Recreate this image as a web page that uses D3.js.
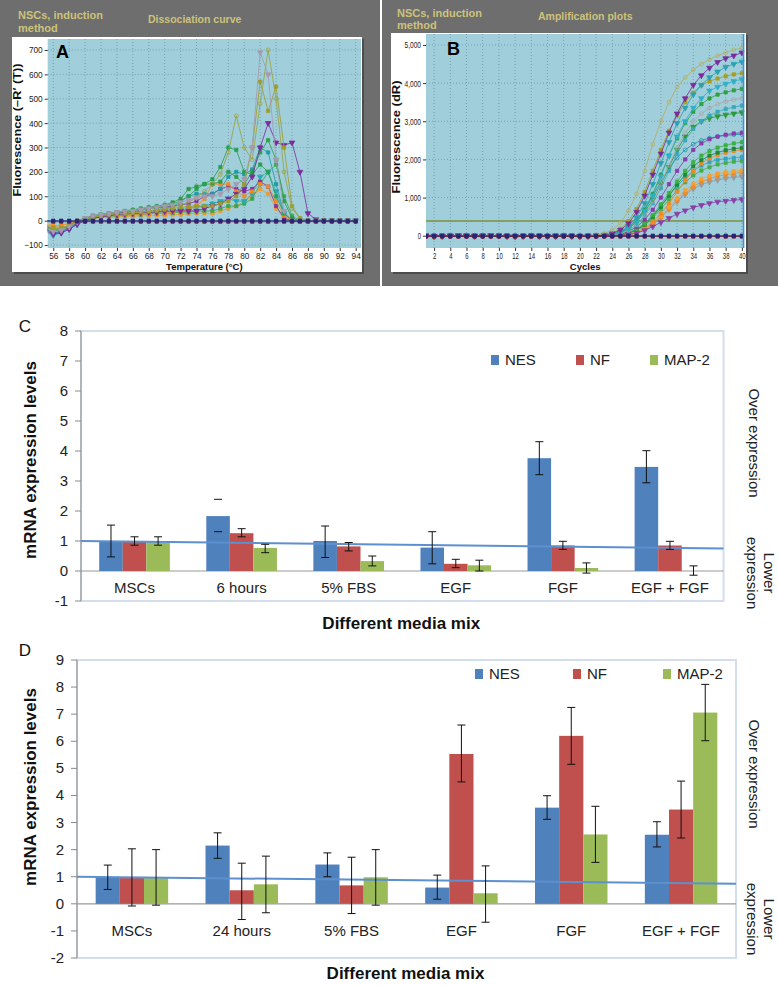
<!DOCTYPE html>
<html><head><meta charset="utf-8">
<script src="https://cdn.jsdelivr.net/npm/d3@7"></script>
<style>body{margin:0;background:#fff} svg{display:block}</style>
</head><body>
<svg id="fig" width="778" height="985"></svg>
<script>
// ================= DATA =================
// ---- Panel A: dissociation curves (-R'(T)) at each °C ----
const dissTemps = [55,56,57,58,59,60,61,62,63,64,65,66,67,68,69,70,71,72,73,74,75,76,77,78,79,80,81,82,83,84,85,86,87,88,89,90,91,92,93,94];
const dissGreen1 = [-20,-40,-35,-20,0,10,20,25,30,35,35,40,45,50,55,60,70,80,100,130,150,170,220,300,290,200,190,230,200,100,30,5,0,0,0,0,0,0,0,0];
const dissOlive1 = [-25,-35,-30,-20,-5,5,15,20,25,30,30,35,35,40,45,50,55,65,75,95,120,150,190,280,430,300,250,480,700,500,200,50,10,0,0,0,0,0,0,0];
const dissGray   = [-30,-45,-40,-25,-5,10,20,25,30,35,38,40,45,50,55,60,65,75,85,95,100,100,110,130,150,170,300,690,600,250,40,0,0,0,0,0,0,0,0,0];
const dissOlive2 = [-20,-30,-30,-20,-5,5,15,20,25,28,30,32,35,38,40,45,50,55,58,60,60,60,70,80,100,150,300,570,450,550,300,60,10,0,0,0,0,0,0,0];
const dissPurple1= [-40,-55,-50,-35,-15,0,10,15,20,25,28,30,32,35,35,38,40,40,40,40,50,60,70,90,110,130,180,300,400,320,310,320,200,30,5,0,0,0,0,0];
const dissTeal1  = [-30,-50,-45,-30,-10,5,15,20,25,30,32,35,38,40,45,50,55,80,100,110,110,110,130,180,200,190,210,300,280,150,30,0,0,0,0,0,0,0,0,0];
const dissOrange1= [-15,-25,-20,-10,0,10,15,18,20,22,24,25,27,28,30,30,35,40,45,60,90,150,150,150,120,100,120,150,140,80,20,0,0,0,0,0,0,0,0,0];
const dissOrange2= [-10,-20,-20,-10,0,5,10,12,15,15,18,18,20,20,22,22,25,25,28,30,30,30,40,50,60,80,100,130,110,50,10,0,0,0,0,0,0,0,0,0];
const dissPurple2= [-35,-50,-45,-30,-10,5,15,20,25,30,35,40,45,50,55,55,60,65,70,80,100,110,130,140,130,120,130,160,140,60,10,0,0,0,0,0,0,0,0,0];
const dissGreen2 = [-25,-40,-40,-25,-5,10,20,25,30,35,40,45,50,55,60,65,75,90,130,140,150,150,160,200,180,150,200,280,330,250,80,10,0,0,0,0,0,0,0,0];
const dissCyan   = [-45,-60,-50,-35,-15,0,10,15,20,22,25,28,30,32,35,38,40,45,50,55,60,70,80,90,80,80,110,180,200,120,30,0,0,0,0,0,0,0,0,0];
const dissGreen3 = [-20,-35,-30,-20,-5,5,12,15,18,20,22,25,25,28,30,30,32,35,35,38,40,40,50,60,60,70,90,150,200,230,100,20,0,0,0,0,0,0,0,0];
const dissNTC1   = [0,0,0,0,0,0,0,0,0,0,0,0,0,0,0,0,0,0,0,0,0,0,0,0,0,0,0,0,0,0,0,0,0,0,0,0,0,0,0,0];
const dissNTC2   = [-4,-4,-4,-4,-4,-4,-4,-4,-4,-4,-4,-4,-4,-4,-4,-4,-4,-4,-4,-4,-4,-4,-4,-4,-4,-4,-4,-4,-4,-4,-4,-4,-4,-4,-4,-4,-4,-4,-4,-4];
const dissTicksX = [56,58,60,62,64,66,68,70,72,74,76,78,80,82,84,86,88,90,92,94];
const dissTicksY = [-100,0,100,200,300,400,500,600,700];

// ---- Panel B: amplification plots (dR) per cycle ----
const ampCycles = [1,2,3,4,5,6,7,8,9,10,11,12,13,14,15,16,17,18,19,20,21,22,23,24,25,26,27,28,29,30,31,32,33,34,35,36,37,38,39,40];
const ampBaseline = [0,-10,-5,0,5,0,-5,0,5,0,-5,-10,-5,0,-5,-10,-5,0,-5,-10,-5]; // cycles 1-21
// cycles 22-40
const ampOliveTop = [20,60,150,330,650,1100,1700,2400,3000,3500,3900,4150,4350,4500,4620,4720,4800,4870,4920];
const ampPurple1  = [0,20,60,150,320,620,1050,1600,2150,2700,3200,3600,3950,4200,4400,4550,4650,4720,4800];
const ampTeal1    = [0,10,40,110,250,480,850,1350,1900,2450,2950,3350,3700,3950,4150,4300,4420,4500,4560];
const ampOliveSq  = [0,20,70,180,380,700,1150,1700,2250,2750,3150,3500,3750,3950,4050,4120,4180,4230,4260];
const ampCyan     = [0,10,30,80,180,360,650,1050,1550,2100,2600,3000,3350,3600,3800,3900,3980,4050,4100];
const ampGreen1   = [0,10,30,80,190,380,680,1100,1600,2100,2550,2950,3250,3450,3600,3700,3760,3810,3850];
const ampGray1    = [0,0,20,60,140,290,540,900,1350,1850,2300,2700,3000,3200,3350,3450,3520,3570,3600];
const ampTeal2    = [0,0,20,60,140,280,520,850,1250,1700,2150,2500,2800,3000,3150,3250,3320,3370,3410];
const ampGreen2   = [0,10,30,80,180,360,620,950,1350,1800,2250,2600,2850,3000,3080,3130,3170,3200,3230];
const ampPurple2  = [0,0,10,40,110,230,420,680,1000,1350,1700,2000,2250,2420,2530,2600,2650,2680,2700];
const ampTeal3    = [0,10,40,100,220,420,700,1050,1400,1750,2050,2250,2400,2500,2560,2600,2630,2650,2660];
const ampGreen3   = [0,0,10,30,80,170,320,540,820,1120,1420,1700,1930,2100,2220,2310,2370,2420,2450];
const ampDkGreen  = [0,0,10,30,70,150,290,500,760,1050,1340,1600,1820,1980,2100,2180,2240,2280,2300];
const ampOrange1  = [0,0,0,15,45,100,200,360,580,850,1150,1450,1700,1900,2030,2120,2180,2220,2250];
const ampTeal4    = [0,0,10,30,80,170,320,520,780,1050,1300,1520,1700,1840,1930,1990,2020,2040,2060];
const ampGreen4   = [0,0,0,20,60,140,270,460,700,950,1190,1400,1580,1710,1800,1870,1910,1940,1960];
const ampOrange2  = [0,0,0,10,30,80,170,320,520,750,980,1190,1360,1490,1570,1630,1660,1690,1710];
const ampOrange3  = [0,0,0,10,25,70,150,290,480,700,920,1120,1290,1410,1500,1560,1600,1630,1660];
const ampGray2    = [0,0,0,10,30,70,160,300,480,690,900,1080,1230,1340,1410,1460,1500,1530,1550];
const ampPurpleLow= [0,0,0,10,30,70,140,240,350,460,570,660,740,800,850,890,910,930,950];
const ampNTC1 = [0,0,0,0,0,0,0,0,0,0,0,0,0,0,0,0,0,0,0,0,0,0,0,0,0,0,0,0,0,0,0,0,0,0,0,0,0,0,0,0];
const ampNTC2 = [-20,-20,-20,-20,-20,-20,-20,-20,-20,-20,-20,-20,-20,-20,-20,-20,-20,-20,-20,-20,-20,-20,-20,-20,-20,-20,-20,-20,-20,-20,-20,-20,-20,-20,-20,-20,-20,-20,-20,-20];
const ampThreshold = 386;
const ampTicksX = [2,4,6,8,10,12,14,16,18,20,22,24,26,28,30,32,34,36,38,40];
const ampTicksY = [0,1000,2000,3000,4000,5000];

// ---- Panel C ----
const genes = ["NES","NF","MAP-2"];
const mediaC = ["MSCs","6 hours","5% FBS","EGF","FGF","EGF + FGF"];
const nesC   = [0.98,1.83,1.0,0.78,3.76,3.47];
const nesCLo = [0.47,1.31,0.45,0.24,3.21,2.94];
const nesCHi = [1.53,2.39,1.5,1.31,4.31,4.01];
const nfC    = [0.98,1.26,0.82,0.24,0.85,0.85];
const nfCLo  = [0.86,1.14,0.67,0.11,0.72,0.72];
const nfCHi  = [1.14,1.41,0.95,0.39,0.99,0.99];
const mapC   = [0.98,0.77,0.33,0.19,0.1,0.0];
const mapCLo = [0.86,0.61,0.17,0.0,-0.07,-0.14];
const mapCHi = [1.14,0.89,0.5,0.36,0.27,0.17];
const capsOnlyC = [["6 hours","NES"]];
const trendC = [1.0, 0.75];
const ticksC = [-1,0,1,2,3,4,5,6,7,8];

// ---- Panel D ----
const mediaD = ["MSCs","24 hours","5% FBS","EGF","FGF","EGF + FGF"];
const nesD   = [0.98,2.15,1.45,0.6,3.55,2.55];
const nesDLo = [0.53,1.68,1.0,0.17,3.12,2.1];
const nesDHi = [1.43,2.62,1.88,1.06,3.99,3.03];
const nfD    = [0.95,0.5,0.68,5.53,6.2,3.48];
const nfDLo  = [-0.08,-0.58,-0.36,4.5,5.15,2.43];
const nfDHi  = [2.03,1.5,1.72,6.6,7.25,4.53];
const mapD   = [0.95,0.72,0.98,0.39,2.56,7.06];
const mapDLo = [-0.05,-0.33,-0.05,-0.68,1.53,6.02];
const mapDHi = [2.0,1.76,2.0,1.4,3.6,8.1];
const trendD = [1.0, 0.74];
const ticksD = [-2,-1,0,1,2,3,4,5,6,7,8,9];

// ================= DRAWING =================
const FONT = "'Liberation Sans', Arial, Helvetica, sans-serif";
const svg = d3.select("#fig").style("font-family", FONT);
svg.append("rect").attr("width",778).attr("height",985).attr("fill","#fff");

const symSq = d3.symbol().type(d3.symbolSquare).size(11);
const symTri = d3.symbol().type(d3.symbolTriangle).size(14);
const symCirc = d3.symbol().type(d3.symbolCircle).size(12);

function qpcrPanel(o){
  const g = svg.append("g");
  g.append("rect").attr("x",o.px).attr("y",0).attr("width",o.pw).attr("height",286).attr("fill","#6e6e6e");
  g.append("rect").attr("x",o.fx+2).attr("y",o.fy+2).attr("width",o.fw).attr("height",o.fh).attr("fill","#4c4c4c");
  g.append("rect").attr("x",o.fx).attr("y",o.fy).attr("width",o.fw).attr("height",o.fh).attr("fill","#fff");
  // header text
  o.headLeft.forEach((t,i)=>g.append("text").attr("x",o.hx).attr("y",o.hy[i]).text(t)
      .attr("font-size",11).attr("font-weight","bold").attr("fill","#cdc279"));
  g.append("text").attr("x",o.tx).attr("y",o.ty).text(o.title)
      .attr("font-size",10.5).attr("font-weight","bold").attr("fill","#cdc279");

  const x = d3.scaleLinear().domain(o.xDomain).range([o.x0,o.x1]);
  const y = d3.scaleLinear().domain(o.yDomain).range([o.y1,o.y0]);
  g.append("rect").attr("x",o.x0).attr("y",o.y0).attr("width",o.x1-o.x0).attr("height",o.y1-o.y0).attr("fill","#a0cedb");
  // grid
  g.selectAll(null).data(o.ticksX).join("line")
    .attr("x1",d=>x(d)).attr("x2",d=>x(d)).attr("y1",o.y0).attr("y2",o.y1)
    .attr("stroke","#6f98a6").attr("stroke-width",0.8).attr("stroke-dasharray","1,2");
  g.selectAll(null).data(o.ticksY).join("line")
    .attr("y1",d=>y(d)).attr("y2",d=>y(d)).attr("x1",o.x0).attr("x2",o.x1)
    .attr("stroke","#6f98a6").attr("stroke-width",0.8).attr("stroke-dasharray","1,2");

  const clipId = "clip"+o.id;
  g.append("clipPath").attr("id",clipId).append("rect")
    .attr("x",o.x0).attr("y",o.y0).attr("width",o.x1-o.x0).attr("height",o.y1-o.y0);
  const pg = g.append("g").attr("clip-path",`url(#${clipId})`);
  if (o.extra) o.extra(pg, x, y);
  const line = d3.line().x((d,i)=>x(o.xs[i])).y(d=>y(d));
  o.series.forEach(s=>{
    const sg = pg.append("g");
    sg.append("path").attr("d",line(s.values)).attr("fill","none")
      .attr("stroke",s.color).attr("stroke-width",0.9).attr("opacity",0.9);
    const sym = s.shape==="tri" ? symTri : s.shape==="circ" ? symCirc : symSq;
    sg.selectAll(null).data(s.values).join("path")
      .attr("d",sym)
      .attr("transform",(d,i)=>`translate(${x(o.xs[i])},${y(d)})${s.shape==="tri"?" rotate(180)":""}`)
      .attr("fill",s.shape==="circ"?"none":s.color)
      .attr("stroke",s.color).attr("stroke-width",0.7);
  });
  if (o.after) o.after(g, x, y);

  // axes
  const ax = g.append("g").attr("transform",`translate(${o.x0},0)`)
    .call(d3.axisLeft(y).tickValues(o.ticksY).tickSize(3).tickPadding(2).tickFormat(o.yFormat));
  ax.select(".domain").remove();
  ax.selectAll("text").attr("font-size",9).attr("fill","#222").attr("font-family",FONT)
    .each(function(){ const t=this.textContent; d3.select(this).attr("textLength",t.length*o.charW).attr("lengthAdjust","spacingAndGlyphs"); });
  ax.selectAll("line").attr("stroke","#333");
  const bx = g.append("g").attr("transform",`translate(0,${o.y1})`)
    .call(d3.axisBottom(x).tickValues(o.ticksX).tickSize(3).tickPadding(2).tickFormat(d3.format("d")));
  bx.select(".domain").remove();
  bx.selectAll("text").attr("font-size",9).attr("fill","#222").attr("font-family",FONT)
    .each(function(){ const t=this.textContent; d3.select(this).attr("textLength",t.length*o.charW).attr("lengthAdjust","spacingAndGlyphs"); });
  bx.selectAll("line").attr("stroke","#333");
  // titles
  g.append("text").attr("x",(o.x0+o.x1)/2).attr("y",o.xtY).attr("text-anchor","middle")
    .attr("font-size",9.5).attr("font-weight","bold").attr("fill","#111").text(o.xTitle);
  g.append("text").attr("transform",`translate(${o.ytX},${o.ytY}) rotate(-90)`).attr("text-anchor","middle")
    .attr("font-size",10).attr("font-weight","bold").attr("fill","#111").text(o.yTitle)
    .attr("textLength",o.ytLen).attr("lengthAdjust","spacingAndGlyphs");
  g.append("text").attr("x",o.lx).attr("y",o.ly).text(o.letter)
    .attr("font-size",18).attr("font-weight","bold").attr("fill","#000");
}

// Panel A
qpcrPanel({
  id:"A", px:0, pw:380, fx:12, fy:37, fw:350, fh:235,
  hx:18, hy:[19,32], headLeft:["NSCs, induction","method"], tx:148, ty:23, title:"Dissociation curve",
  x0:47.7, x1:361, y0:39, y1:248, xDomain:[55.3,94.67], yDomain:[-112,745],
  ticksX:dissTicksX, ticksY:dissTicksY, yFormat:d3.format("d"), charW:4.6,
  xs:dissTemps,
  series:[
    {values:dissOrange2,color:"#f39a2c",shape:"sq"},
    {values:dissGreen3,color:"#3aa84a",shape:"sq"},
    {values:dissCyan,color:"#27a9b8",shape:"tri"},
    {values:dissPurple2,color:"#8b2c9a",shape:"sq"},
    {values:dissOrange1,color:"#f08c1e",shape:"sq"},
    {values:dissTeal1,color:"#1b9ca6",shape:"sq"},
    {values:dissGreen2,color:"#2f9c48",shape:"sq"},
    {values:dissGreen1,color:"#27a050",shape:"sq"},
    {values:dissPurple1,color:"#7d2a9e",shape:"tri"},
    {values:dissOlive2,color:"#a09b25",shape:"sq"},
    {values:dissOlive1,color:"#9aa23a",shape:"circ"},
    {values:dissGray,color:"#a49bb0",shape:"tri"},
    {values:dissNTC2,color:"#7a1238",shape:"sq"},
    {values:dissNTC1,color:"#232a7c",shape:"sq"}
  ],
  xTitle:"Temperature (°C)", xtY:270, yTitle:"Fluorescence (−R′ (T))", ytX:21, ytY:130, ytLen:133,
  letter:"A", lx:56, ly:58
});

// Panel B
qpcrPanel({
  id:"B", px:382, pw:396, fx:391, fy:33, fw:355, fh:239,
  hx:397, hy:[17,29], headLeft:["NSCs, induction","method"], tx:538, ty:20, title:"Amplification plots",
  x0:426, x1:744.3, y0:34, y1:248, xDomain:[1,40.3], yDomain:[-322,5288],
  ticksX:ampTicksX, ticksY:ampTicksY, yFormat:d3.format(","), charW:3.3,
  xs:ampCycles,
  series:[
    {values:ampBaseline.concat(ampGray2),color:"#9a9a9a",shape:"tri"},
    {values:ampBaseline.concat(ampOrange3),color:"#ee8a24",shape:"sq"},
    {values:ampBaseline.concat(ampOrange2),color:"#f5a030",shape:"sq"},
    {values:ampBaseline.concat(ampGreen4),color:"#45ad4d",shape:"sq"},
    {values:ampBaseline.concat(ampTeal4),color:"#35a2c0",shape:"sq"},
    {values:ampBaseline.concat(ampOrange1),color:"#f08a20",shape:"sq"},
    {values:ampBaseline.concat(ampDkGreen),color:"#1f8a36",shape:"sq"},
    {values:ampBaseline.concat(ampGreen3),color:"#3cb043",shape:"sq"},
    {values:ampBaseline.concat(ampTeal3),color:"#2090a8",shape:"circ"},
    {values:ampBaseline.concat(ampPurple2),color:"#8a3aaa",shape:"sq"},
    {values:ampBaseline.concat(ampPurpleLow),color:"#8a40a8",shape:"tri"},
    {values:ampBaseline.concat(ampGreen2),color:"#2a9a3a",shape:"tri"},
    {values:ampBaseline.concat(ampTeal2),color:"#3aa8b8",shape:"sq"},
    {values:ampBaseline.concat(ampGray1),color:"#a8a8a8",shape:"circ"},
    {values:ampBaseline.concat(ampGreen1),color:"#30a040",shape:"sq"},
    {values:ampBaseline.concat(ampCyan),color:"#2fb0c8",shape:"tri"},
    {values:ampBaseline.concat(ampOliveSq),color:"#a69e1e",shape:"sq"},
    {values:ampBaseline.concat(ampTeal1),color:"#2aa0b0",shape:"tri"},
    {values:ampBaseline.concat(ampPurple1),color:"#7a2a9a",shape:"tri"},
    {values:ampBaseline.concat(ampOliveTop),color:"#b4ad5c",shape:"circ"},
    {values:ampNTC2,color:"#7a1030",shape:"sq"},
    {values:ampNTC1,color:"#202878",shape:"sq"}
  ],
  extra:(pg,x,y)=>{
    pg.append("line").attr("x1",426).attr("x2",744.3).attr("y1",y(ampThreshold)).attr("y2",y(ampThreshold))
      .attr("stroke","#7f8f3a").attr("stroke-width",1.4);
  },
  after:(g,x,y)=>{
    g.append("line").attr("x1",743.5).attr("x2",743.5).attr("y1",34).attr("y2",248)
      .attr("stroke","#3f8fe0").attr("stroke-width",1.5);
  },
  xTitle:"Cycles", xtY:270, yTitle:"Fluorescence (dR)", ytX:400, ytY:137, ytLen:113,
  letter:"B", lx:447, ly:55
});

// ---------- Bar panels ----------
const barColors = {"NES":"#4f81bd","NF":"#c0504d","MAP-2":"#9bbb59"};

function barPanel(o){
  const g = svg.append("g");
  const x0 = d3.scaleBand().domain(o.cats).range([o.left,o.right]).paddingInner(0.34).paddingOuter(0.17);
  const x1 = d3.scaleBand().domain(genes).range([0,x0.bandwidth()]);
  const y = d3.scaleLinear().domain(o.yDomain).range([o.bottom,o.top]);
  // frame
  g.append("rect").attr("x",o.left).attr("y",o.top).attr("width",o.right-o.left).attr("height",o.bottom-o.top)
    .attr("fill","none").attr("stroke","#d3deec").attr("stroke-width",2);
  // left axis
  g.append("line").attr("x1",o.left).attr("x2",o.left).attr("y1",o.top).attr("y2",o.bottom).attr("stroke","#8a8a8a");
  g.selectAll(null).data(o.ticks).join("line")
    .attr("x1",o.left-6).attr("x2",o.left).attr("y1",d=>y(d)).attr("y2",d=>y(d)).attr("stroke","#8a8a8a");
  g.selectAll(null).data(o.ticks).join("text")
    .attr("x",o.left-13).attr("y",d=>y(d)+5).attr("text-anchor","end")
    .attr("font-size",15).attr("fill","#222").text(d=>d3.format("d")(d).replace("−","-"));
  // zero line
  g.append("line").attr("x1",o.left).attr("x2",o.right).attr("y1",y(0)).attr("y2",y(0))
    .attr("stroke","#9a9a9a").attr("stroke-width",1.2);
  // bars
  o.series.forEach(s=>{
    g.selectAll(null).data(o.cats).join("rect")
      .attr("x",c=>x0(c)+x1(s.name)).attr("width",x1.bandwidth())
      .attr("y",(c,i)=>y(Math.max(0,s.values[i])))
      .attr("height",(c,i)=>Math.abs(y(s.values[i])-y(0)))
      .attr("fill",barColors[s.name]);
  });
  // trend line
  g.append("line").attr("x1",o.left).attr("x2",o.right)
    .attr("y1",y(o.trend[0])).attr("y2",y(o.trend[1]))
    .attr("stroke","#5d90cf").attr("stroke-width",2);
  // error bars
  o.series.forEach(s=>{
    o.cats.forEach((c,i)=>{
      const cx = x0(c)+x1(s.name)+x1.bandwidth()/2;
      const capsOnly = (o.capsOnly||[]).some(p=>p[0]===c && p[1]===s.name);
      if(!capsOnly) g.append("line").attr("x1",cx).attr("x2",cx).attr("y1",y(s.lo[i])).attr("y2",y(s.hi[i]))
        .attr("stroke","#111").attr("stroke-width",1);
      [s.lo[i],s.hi[i]].forEach(v=>g.append("line").attr("x1",cx-4).attr("x2",cx+4)
        .attr("y1",y(v)).attr("y2",y(v)).attr("stroke","#111").attr("stroke-width",1));
    });
  });
  // category labels
  g.selectAll(null).data(o.cats).join("text")
    .attr("x",c=>x0(c)+x0.bandwidth()/2).attr("y",o.catY).attr("text-anchor","middle")
    .attr("font-size",15).attr("fill","#222").text(c=>c);
  // legend
  genes.forEach((gn,i)=>{
    g.append("rect").attr("x",o.legX[i]).attr("y",o.legY-10).attr("width",8).attr("height",10).attr("fill",barColors[gn]);
    g.append("text").attr("x",o.legX[i]+14).attr("y",o.legY).attr("font-size",15).attr("fill","#222").text(gn);
  });
  // titles
  g.append("text").attr("x",(o.left+o.right)/2 - 1).attr("y",o.xtY).attr("text-anchor","middle")
    .attr("font-size",17).attr("font-weight","bold").attr("fill","#111").text("Different media mix");
  g.append("text").attr("transform",`translate(36,${o.ytY}) rotate(-90)`).attr("text-anchor","middle")
    .attr("font-size",17).attr("font-weight","bold").attr("fill","#111").text("mRNA expression levels");
  g.append("text").attr("transform",`translate(749,${o.overY}) rotate(90)`).attr("text-anchor","middle")
    .attr("font-size",15).attr("fill","#222").text("Over expression");
  g.append("text").attr("transform",`translate(764,${o.lowerY}) rotate(90)`).attr("text-anchor","middle")
    .attr("font-size",15).attr("fill","#222").text("Lower");
  g.append("text").attr("transform",`translate(747,${o.lowerY}) rotate(90)`).attr("text-anchor","middle")
    .attr("font-size",15).attr("fill","#222").text("expression");
  g.append("text").attr("x",25).attr("y",o.letterY).attr("text-anchor","middle")
    .attr("font-size",17).attr("fill","#111").text(o.letter);
}

barPanel({
  cats:mediaC, left:81, right:723.5, top:331, bottom:601, yDomain:[-1,8], ticks:ticksC,
  series:[{name:"NES",values:nesC,lo:nesCLo,hi:nesCHi},{name:"NF",values:nfC,lo:nfCLo,hi:nfCHi},{name:"MAP-2",values:mapC,lo:mapCLo,hi:mapCHi}],
  capsOnly:capsOnlyC, trend:trendC, catY:593, legX:[491,576,650], legY:365,
  xtY:629, ytY:460, overY:443, lowerY:573, letter:"C", letterY:332
});
barPanel({
  cats:mediaD, left:77, right:736, top:660, bottom:958, yDomain:[-2,9], ticks:ticksD,
  series:[{name:"NES",values:nesD,lo:nesDLo,hi:nesDHi},{name:"NF",values:nfD,lo:nfDLo,hi:nfDHi},{name:"MAP-2",values:mapD,lo:mapDLo,hi:mapDHi}],
  capsOnly:[], trend:trendD, catY:936, legX:[475,573,663], legY:679,
  xtY:979, ytY:787, overY:774, lowerY:919, letter:"D", letterY:656
});
</script>
</body></html>
